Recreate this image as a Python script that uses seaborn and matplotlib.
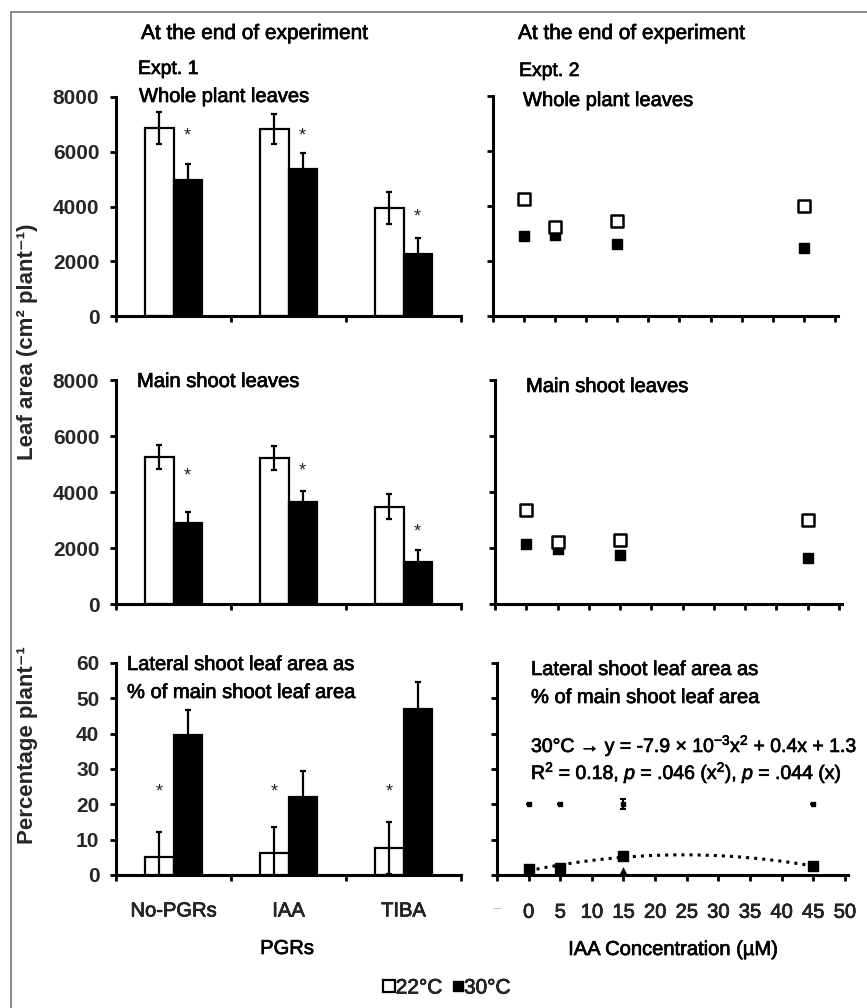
import numpy as np
import pandas as pd
import matplotlib
matplotlib.use("Agg")
import matplotlib.pyplot as plt
import matplotlib.patheffects as pe
import seaborn as sns
from matplotlib.lines import Line2D
from matplotlib.container import BarContainer

sns.set_theme(style="ticks")
plt.rcParams["font.family"] = ["Liberation Sans", "DejaVu Sans"]
plt.rcParams["mathtext.fontset"] = "custom"
plt.rcParams["mathtext.rm"] = "Liberation Sans"
plt.rcParams["mathtext.it"] = "Liberation Sans:italic"
plt.rcParams["mathtext.bf"] = "Liberation Sans:bold"

HEAVY = [pe.withStroke(linewidth=0.5, foreground="black")]

# ---------------- data ----------------
pgrs = ["No-PGRs", "IAA", "TIBA"]
temps = ["22°C", "30°C"]

whole_22 = [6870, 6830, 3940]
whole_22_err = [580, 560, 590]
whole_30 = [4980, 5370, 2270]
whole_30_err = [570, 580, 570]
whole_stars = [6560, 6560, 3630]

main_22 = [5260, 5220, 3470]
main_22_err = [430, 440, 450]
main_30 = [2880, 3630, 1490]
main_30_err = [420, 400, 440]
main_stars = [4580, 4750, 2580]

lat_22 = [5.0, 6.1, 7.7]
lat_22_err = [7.3, 7.4, 7.4]
lat_30 = [39.7, 22.0, 46.9]
lat_30_err = [7.1, 7.5, 7.6]
lat_stars = [23.6, 23.6, 23.6]

iaa_conc = [0, 5, 15, 45]
e2_whole_22 = [4240, 3230, 3440, 4000]
e2_whole_30 = [2900, 2960, 2610, 2490]
e2_main_22 = [3370, 2220, 2300, 2990]
e2_main_30 = [2160, 1980, 1740, 1650]
e2_lat_30 = [1.7, 2.0, 5.4, 2.5]
e2_lat_22 = [20, 20, 20, 20]
e2_lat_22_err = [0, 0, 1.4, 0]
e2_lat_tri_x = [15]
e2_lat_tri_y = [1.2]

conc_ticks = list(range(-5, 51, 5))
conc_labels = ["–"] + [str(v) for v in range(0, 51, 5)]

# ---------------- figure ----------------
W, H = 867, 1008
fig = plt.figure(figsize=(W / 100, H / 100), dpi=100)
fig.patch.set_facecolor("white")


def ax_at(l, t, r, b):
    return fig.add_axes([l / W, 1 - b / H, (r - l) / W, (b - t) / H])


def ftext(x, y, s, **kw):
    kw.setdefault("va", "baseline")
    kw.setdefault("ha", "left")
    kw.setdefault("fontsize", 14.5)
    kw.setdefault("color", "black")
    kw.setdefault("path_effects", HEAVY)
    fig.text(x / W, 1 - y / H, s, **kw)


def style_axes(ax):
    for s in ["top", "right"]:
        ax.spines[s].set_visible(False)
    for s in ["left", "bottom"]:
        ax.spines[s].set_linewidth(2.2)
        ax.spines[s].set_color("black")
    ax.set_facecolor("white")
    ax.tick_params(which="major", direction="out", length=4, width=2.0,
                   color="black")
    ax.set_xlabel("")
    ax.set_ylabel("")


def bar_panel(ax, v22, e22, v30, e30, stars, ymax, ystep, star_on, labels):
    df = pd.DataFrame({
        "PGR": pgrs * 2,
        "Temp": [temps[0]] * 3 + [temps[1]] * 3,
        "val": list(v22) + list(v30),
    })
    sns.barplot(data=df, x="PGR", y="val", hue="Temp", order=pgrs,
                hue_order=temps, palette={temps[0]: "white", temps[1]: "black"},
                edgecolor="black", linewidth=1.6, width=0.49, errorbar=None,
                legend=False, ax=ax)
    errs = [e22, e30]
    bars = [c for c in ax.containers if isinstance(c, BarContainer)]
    centers = []
    for k, cont in enumerate(bars):
        cx = [b.get_x() + b.get_width() / 2 for b in cont]
        centers.append(cx)
        hs = [b.get_height() for b in cont]
        ax.errorbar(cx, hs, yerr=errs[k], fmt="none", ecolor="black",
                    elinewidth=1.6, capsize=2.5, capthick=1.6, zorder=5)
    for i, sy in enumerate(stars):
        ax.text(centers[star_on][i], sy, "*", ha="center", va="center",
                fontsize=13, color="#222222")
    ax.set_xlim(-0.5, 2.5)
    ax.set_ylim(0, ymax)
    ax.set_yticks(np.arange(0, ymax + 1, ystep))
    ax.set_xticks([-0.5, 0.5, 1.5, 2.5])
    ax.set_xticklabels([])
    style_axes(ax)
    for lab in ax.get_yticklabels():
        lab.set_fontweight("bold")
        lab.set_fontsize(15)
    ax.tick_params(axis="y", pad=8)
    if labels:
        ax.set_xticks([0, 1, 2], minor=True)
        ax.set_xticklabels(pgrs, minor=True, fontsize=14.5)
        ax.tick_params(axis="x", which="minor", length=0, pad=19)
        for lab in ax.get_xticklabels(minor=True):
            lab.set_path_effects(HEAVY)


def scatter_panel(ax, ymax, ystep, xlabels):
    ax.set_xlim(-5, 50.5)
    ax.set_ylim(0, ymax)
    ax.set_yticks(np.arange(0, ymax + 1, ystep))
    ax.set_yticklabels([])
    ax.set_xticks(conc_ticks)
    style_axes(ax)
    if xlabels:
        ax.set_xticklabels(conc_labels, fontsize=14.5)
        ax.tick_params(axis="x", pad=16)
        labs = ax.get_xticklabels()
        for lab in labs[1:]:
            lab.set_path_effects(HEAVY)
        labs[0].set_color("#b0b0b0")
        labs[0].set_fontsize(9)
    else:
        ax.set_xticklabels([])


# ---- row 1 ----
ax1 = ax_at(116, 97, 461, 316)
bar_panel(ax1, whole_22, whole_22_err, whole_30, whole_30_err, whole_stars,
          8000, 2000, 1, False)

ax2 = ax_at(493, 96, 838, 316)
sns.scatterplot(x=iaa_conc, y=e2_whole_22, marker="s", s=70, color="white",
                edgecolor="black", linewidth=1.8, ax=ax2, zorder=4)
sns.scatterplot(x=iaa_conc, y=e2_whole_30, marker="s", s=60, color="black",
                edgecolor="black", linewidth=1, ax=ax2, zorder=3)
scatter_panel(ax2, 8000, 2000, False)

# ---- row 2 ----
ax3 = ax_at(116, 380, 461, 604)
bar_panel(ax3, main_22, main_22_err, main_30, main_30_err, main_stars,
          8000, 2000, 1, False)

ax4 = ax_at(495, 380, 842, 604)
sns.scatterplot(x=iaa_conc, y=e2_main_22, marker="s", s=70, color="white",
                edgecolor="black", linewidth=1.8, ax=ax4, zorder=4)
sns.scatterplot(x=iaa_conc, y=e2_main_30, marker="s", s=60, color="black",
                edgecolor="black", linewidth=1, ax=ax4, zorder=3)
scatter_panel(ax4, 8000, 2000, False)

# ---- row 3 ----
ax5 = ax_at(116, 663, 461, 875)
bar_panel(ax5, lat_22, lat_22_err, lat_30, lat_30_err, lat_stars,
          60, 10, 0, True)

ax6 = ax_at(497, 663, 848, 875)
sns.regplot(x=iaa_conc, y=e2_lat_30, order=2, ci=None, scatter=False,
            truncate=True, color="black",
            line_kws={"linestyle": ":", "linewidth": 2.2}, ax=ax6)
sns.scatterplot(x=iaa_conc, y=e2_lat_30, marker="s", s=60, color="black",
                edgecolor="black", linewidth=1, ax=ax6, zorder=4)
ax6.errorbar(iaa_conc, e2_lat_22, yerr=e2_lat_22_err, fmt="s", ms=3,
             color="black", elinewidth=1.5, capsize=2, capthick=1.5)
sns.scatterplot(x=e2_lat_tri_x, y=e2_lat_tri_y, marker="^", s=30,
                color="black", edgecolor="black", ax=ax6, zorder=5)
scatter_panel(ax6, 60, 10, True)

# ---------------- texts ----------------
ftext(141, 39, "At the end of experiment", fontsize=15)
ftext(518, 39, "At the end of experiment", fontsize=15)
ftext(138, 74, "Expt. 1", fontsize=14)
ftext(519, 76, "Expt. 2", fontsize=14)
ftext(139, 102, "Whole plant leaves")
ftext(523, 106, "Whole plant leaves")
ftext(137, 387, "Main shoot leaves")
ftext(526, 392, "Main shoot leaves")
ftext(127, 670, "Lateral shoot leaf area as")
ftext(127, 698, "% of main shoot leaf area")
ftext(531, 675, "Lateral shoot leaf area as")
ftext(531, 703, "% of main shoot leaf area")
ftext(531, 752, "30°C → y = -7.9 × 10$^{-3}$x$^{2}$ + 0.4x + 1.3", fontsize=14)
ftext(531, 779, "R$^{2}$ = 0.18, $p$ = .046 (x$^{2}$), $p$ = .044 (x)", fontsize=14)
ftext(287, 954, "PGRs", ha="center")
ftext(673, 955, "IAA Concentration (µM)", ha="center")

fig.text(28 / W, 1 - 342 / H, "Leaf area (cm² plant⁻¹)", rotation=90,
         ha="center", va="center", fontsize=16, fontweight="bold")
fig.text(28 / W, 1 - 745 / H, "Percentage plant⁻¹", rotation=90,
         ha="center", va="center", fontsize=16, fontweight="bold")

# legend
handles = [
    Line2D([], [], marker="s", ls="none", mfc="white", mec="black", mew=1.6, ms=8),
    Line2D([], [], marker="s", ls="none", mfc="black", mec="black", mew=1, ms=7.5),
]
leg = fig.legend(handles=handles, labels=temps, loc="center",
                 bbox_to_anchor=(447 / W, 1 - 988 / H), ncol=2, frameon=False,
                 handletextpad=0.0, handlelength=0.6, columnspacing=0.45,
                 fontsize=15)
for t in leg.get_texts():
    t.set_path_effects(HEAVY)

# outer border (top & left)
fig.add_artist(Line2D([11 / W, 1], [1 - 12 / H, 1 - 12 / H], color="#808080",
                      lw=1.3, transform=fig.transFigure))
fig.add_artist(Line2D([11 / W, 11 / W], [1 - 12 / H, 0], color="#808080",
                      lw=1.3, transform=fig.transFigure))

fig.savefig("out.png", dpi=100, facecolor="white")
